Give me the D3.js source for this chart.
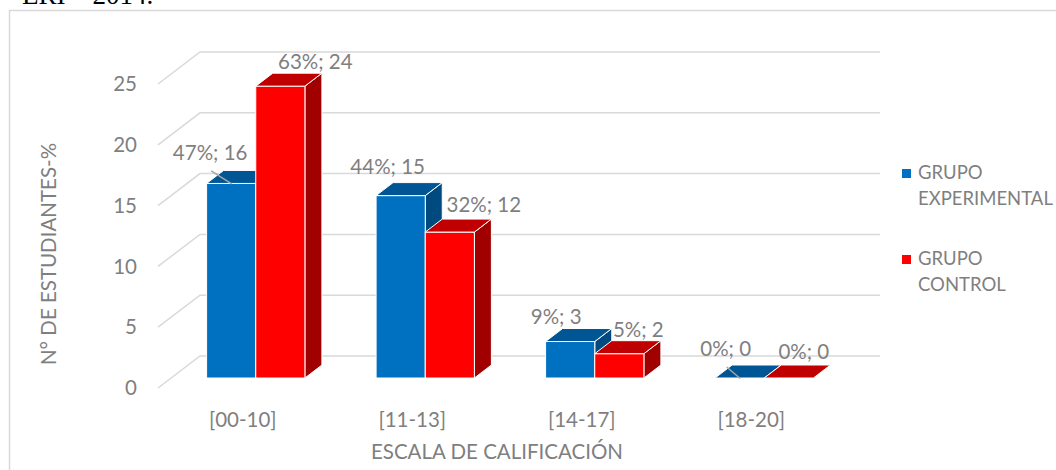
<!DOCTYPE html>
<html>
<head>
<meta charset="utf-8">
<script src="https://cdn.jsdelivr.net/npm/d3@7"></script>
<style>
  body { margin: 0; background: #fff; }
  text { font-family: Lato, "Open Sans", sans-serif; fill: #7f7f7f; }
</style>
</head>
<body>
<div id="chart"></div>
<script>
// data
const categories = ['[00-10]', '[11-13]', '[14-17]', '[18-20]'];
const seriesNames = ['GRUPO EXPERIMENTAL', 'GRUPO CONTROL'];
const experimental = [16, 15, 3, 0];
const control = [24, 12, 2, 0];
const experimentalPct = ['47%', '44%', '9%', '0%'];
const controlPct = ['63%', '32%', '5%', '0%'];
const yTicks = [0, 5, 10, 15, 20, 25];

const series = [
  { name: seriesNames[0], values: experimental, pct: experimentalPct,
    front: '#0070c0', top: '#005594', side: '#004a80' },
  { name: seriesNames[1], values: control, pct: controlPct,
    front: '#ff0000', top: '#c00000', side: '#a00000' }
];

const W = 1056, H = 470;
const FS = '20.5px';
const svg = d3.select('#chart').append('svg')
  .attr('width', W).attr('height', H);

// cut-off line of the document above the chart
svg.append('text')
  .attr('x', 22).attr('y', 4)
  .style('font-family', '"Liberation Serif", "Times New Roman", serif')
  .style('font-size', '27px')
  .style('fill', '#000')
  .text('ERI – 2014.');

// chart frame
svg.append('rect')
  .attr('x', 9.5).attr('y', 10.5)
  .attr('width', W).attr('height', H)
  .attr('fill', 'none')
  .attr('stroke', '#d9d9d9')
  .attr('stroke-width', 1.5);

// oblique depth: back wall offset and bar front/back offsets
const wall = { dx: 42, dy: -32 };
const barFront = { dx: 13, dy: -10 };
const barDepth = { dx: 17, dy: -13 };

const y = d3.scaleLinear().domain([0, 25]).range([388, 84]);
const x = d3.scaleBand().domain(categories)
  .range([158, 836]).paddingInner(0.42).paddingOuter(0.21);
const xs = d3.scaleBand().domain(seriesNames).range([0, x.bandwidth()]);

// gridlines on side and back wall
svg.selectAll('.grid')
  .data(yTicks)
  .enter()
  .append('path')
  .attr('class', 'grid')
  .attr('fill', 'none')
  .attr('stroke', '#d9d9d9')
  .attr('stroke-width', 1.5)
  .attr('d', d => `M158,${y(d)}L${158 + wall.dx},${y(d) + wall.dy}L880,${y(d) + wall.dy}`);

svg.selectAll('.ytick')
  .data(yTicks)
  .enter()
  .append('text')
  .attr('class', 'ytick')
  .attr('x', 137)
  .attr('y', d => y(d))
  .attr('dy', '0.35em')
  .attr('text-anchor', 'end')
  .style('font-size', FS)
  .text(d => d);

// bars, drawn left to right so later ones cover earlier side faces
const bars = [];
categories.forEach((c, i) => {
  series.forEach(s => {
    const x0 = x(c) + xs(s.name) + barFront.dx;
    const x1 = x0 + xs.bandwidth();
    const yb = y(0) + barFront.dy;
    const yt = y(s.values[i]) + barFront.dy;
    bars.push({ c, i, s, x0, x1, yb, yt });
  });
});

const g = svg.selectAll('.bar')
  .data(bars)
  .enter()
  .append('g')
  .attr('class', 'bar');

const dx = barDepth.dx, dy = barDepth.dy;
g.filter(d => d.yb - d.yt > 0.5).append('path')
  .attr('fill', d => d.s.side)
  .attr('stroke', '#fff').attr('stroke-width', 1)
  .attr('d', d => `M${d.x1},${d.yt}L${d.x1 + dx},${d.yt + dy}L${d.x1 + dx},${d.yb + dy}L${d.x1},${d.yb}Z`);
g.filter(d => d.yb - d.yt > 0.5).append('rect')
  .attr('x', d => d.x0).attr('y', d => d.yt)
  .attr('width', d => d.x1 - d.x0).attr('height', d => d.yb - d.yt)
  .attr('fill', d => d.s.front)
  .attr('stroke', '#fff').attr('stroke-width', 1);
g.append('path')
  .attr('fill', d => d.s.top)
  .attr('stroke', '#fff').attr('stroke-width', 1)
  .attr('d', d => `M${d.x0},${d.yt}L${d.x0 + dx},${d.yt + dy}L${d.x1 + dx},${d.yt + dy}L${d.x1},${d.yt}Z`);

// data labels, nudged from the centre of each top face like the original
const nudge = [
  [[-29.5, -24], [26.5, -17.7]],
  [[-21.5, -22], [25.5, -20.6]],
  [[-22.5, -18], [10.5, -17.2]],
  [[-22.5, -22.5], [6.5, -19.5]]
];
bars.forEach(d => {
  const si = series.indexOf(d.s);
  d.cx = (d.x0 + d.x1) / 2 + dx / 2;
  d.cy = d.yt + dy / 2;
  d.lx = d.cx + nudge[d.i][si][0];
  d.ly = d.cy + nudge[d.i][si][1];
  d.leader = si === 0 && (d.i === 0 || d.i === 3);
});

svg.selectAll('.leader')
  .data(bars.filter(d => d.leader))
  .enter()
  .append('line')
  .attr('class', 'leader')
  .attr('x1', d => d.lx + 1).attr('y1', d => d.ly + 18)
  .attr('x2', d => d.cx - 8).attr('y2', d => d.cy + 7)
  .attr('stroke', '#a6a6a6').attr('stroke-width', 1.5);

svg.selectAll('.dlabel')
  .data(bars)
  .enter()
  .append('text')
  .attr('class', 'dlabel')
  .attr('x', d => d.lx)
  .attr('y', d => d.ly)
  .attr('dy', '0.35em')
  .attr('text-anchor', 'middle')
  .style('font-size', FS)
  .text(d => `${d.s.pct[d.i]}; ${d.s.values[d.i]}`);

// category axis
svg.selectAll('.xtick')
  .data(categories)
  .enter()
  .append('text')
  .attr('class', 'xtick')
  .attr('x', d => x(d) + x.bandwidth() / 2)
  .attr('y', 420)
  .attr('dy', '0.35em')
  .attr('text-anchor', 'middle')
  .style('font-size', FS)
  .text(d => d);

svg.append('text')
  .attr('x', 497).attr('y', 452)
  .attr('dy', '0.35em')
  .attr('text-anchor', 'middle')
  .style('font-size', FS)
  .text('ESCALA DE CALIFICACIÓN');

svg.append('text')
  .attr('transform', 'translate(49,254) rotate(-90)')
  .attr('dy', '0.35em')
  .attr('text-anchor', 'middle')
  .style('font-size', FS)
  .text('N° DE ESTUDIANTES-%');

// legend
const legend = svg.selectAll('.legend')
  .data(series)
  .enter()
  .append('g')
  .attr('class', 'legend')
  .attr('transform', (d, i) => `translate(902,${169 + i * 86})`);

legend.append('rect')
  .attr('width', 9).attr('height', 9)
  .attr('fill', d => d.front);

legend.append('text')
  .attr('x', 16)
  .style('font-size', '18.5px')
  .selectAll('tspan')
  .data(d => d.name.split(' '))
  .enter()
  .append('tspan')
  .attr('x', 16)
  .attr('y', (d, i) => 4 + i * 25.5)
  .attr('dy', '0.35em')
  .text(d => d);
</script>
</body>
</html>
